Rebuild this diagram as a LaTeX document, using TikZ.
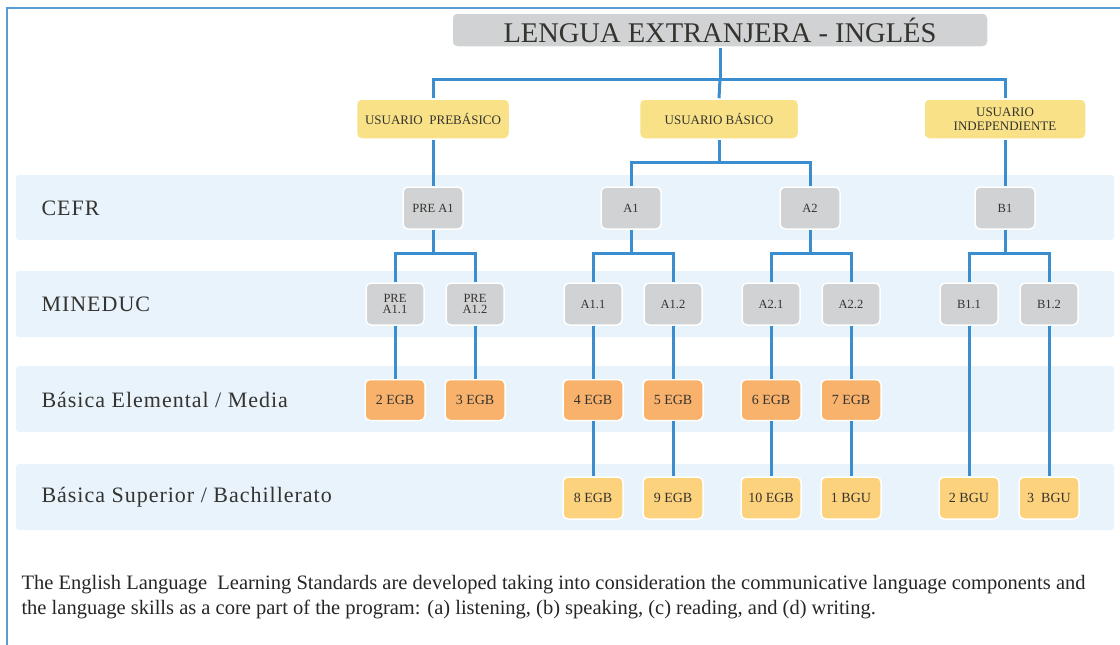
\documentclass[tikz,border=0pt]{standalone}
\usepackage{fontspec}
\usetikzlibrary{calc}
\setmainfont{Liberation Serif}
\newfontfamily\labelfont[LetterSpace=4.5]{Liberation Serif}

\definecolor{lineblue}{HTML}{3A8DCF}
\definecolor{frameblue}{HTML}{5B9BD5}
\definecolor{bandblue}{HTML}{E8F3FB}
\definecolor{boxgrey}{HTML}{D1D2D4}
\definecolor{usryellow}{HTML}{F8E186}
\definecolor{egborange}{HTML}{F8B26C}
\definecolor{bguyellow}{HTML}{FDD27D}
\definecolor{textgrey}{HTML}{353330}

\begin{document}
\begin{tikzpicture}[x=1pt,y=-1pt,
  conn/.style={draw=lineblue,line width=3pt},
  band/.style={fill=bandblue,rounded corners=3pt},
  box/.style={rounded corners=5pt,draw=white,line width=1.5pt,text=textgrey,
    align=center,inner sep=0pt},
  greybox/.style={box,fill=boxgrey,minimum width=60pt,minimum height=42pt,
    font=\fontsize{12.5}{11}\selectfont},
  usrbox/.style={box,fill=usryellow,minimum height=40pt,
    font=\fontsize{13}{14}\selectfont},
  egbbox/.style={box,fill=egborange,minimum width=60pt,minimum height=41pt,
    font=\fontsize{14}{14}\selectfont},
  bgubox/.style={box,fill=bguyellow,minimum width=60pt,minimum height=42pt,
    font=\fontsize{14}{14}\selectfont},
  rowlabel/.style={anchor=west,text=textgrey,font=\labelfont\fontsize{22}{24}\selectfont}]

  \useasboundingbox (0,0) rectangle (1120,645);
  \draw[frameblue,line width=2pt] (7,645) -- (7,8) -- (1120,8);

  % bands
  \foreach \ya/\yb in {175/240,271/337,366/432,464/530}
  \fill[band] (16,\ya) rectangle (1114,\yb);

  \node[rowlabel] (cefr) at (38,208) {CEFR};
  \node[rowlabel] (mineduc) at (38,304) {MINEDUC};
  \node[rowlabel] (media) at (38,400) {Básica Elemental / Media};
  \node[rowlabel] (bach) at (38,497) {Básica Superior / Bachillerato};

  % title and users
  \node[box,fill=boxgrey,minimum width=536pt,minimum height=34pt,
    font=\fontsize{28.5}{30}\selectfont] (title) at (720,30)
    {LENGUA EXTRANJERA\ - INGLÉS};
  \node[usrbox,minimum width=153pt] (prebas) at (433,119) {USUARIO\ \ PREBÁSICO};
  \node[usrbox,minimum width=159pt] (basico) at (719,119) {USUARIO BÁSICO};
  \node[usrbox,minimum width=162pt] (indep) at (1005,119) {USUARIO\\INDEPENDIENTE};

  % CEFR
  \node[greybox] (preaone) at (433,208) {PRE A1};
  \node[greybox] (aone) at (631,208) {A1};
  \node[greybox] (atwo) at (810,208) {A2};
  \node[greybox] (bone) at (1005,208) {B1};

  % MINEDUC
  \foreach \x/\n/\t in {395/pa11/PRE\\A1.1,475/pa12/PRE\\A1.2,593/a11/A1.1,
    673/a12/A1.2,771/a21/A2.1,851/a22/A2.2,969/b11/B1.1,1049/b12/B1.2}
  \node[greybox,minimum width=58pt] (\n) at (\x,304) {\t};

  % EGB
  \foreach \x/\n/\t in {395/egb2/2 EGB,475/egb3/3 EGB,593/egb4/4 EGB,
    673/egb5/5 EGB,771/egb6/6 EGB,851/egb7/7 EGB}
  \node[egbbox] (\n) at (\x,400) {\t};

  % BGU
  \foreach \x/\n/\t in {593/egb8/8 EGB,673/egb9/9 EGB,771/egb10/10 EGB,
    851/bgu1/1 BGU,969/bgu2/2 BGU,1049/bgu3/3\ \ BGU}
  \node[bgubox] (\n) at (\x,498) {\t};

  % connectors
  \coordinate (t0) at (720,79);
  \draw[conn] (title.south) -- (t0);
  \draw[conn] (prebas.north) |- (t0) -| (indep.north);
  \draw[conn] (t0) -- (basico.north);

  \draw[conn] (prebas.south) -- (preaone.north);
  \draw[conn] (indep.south) -- (bone.north);
  \coordinate (b0) at (719,162);
  \draw[conn] (basico.south) -- (b0);
  \draw[conn] (aone.north) |- (b0) -| (atwo.north);

  \foreach \p/\l/\r in {preaone/pa11/pa12,aone/a11/a12,atwo/a21/a22,bone/b11/b12}{
    \coordinate (\p-s) at ($(\p.south)+(0,24)$);
    \draw[conn] (\p.south) -- (\p-s);
    \draw[conn] (\l.north) |- (\p-s) -| (\r.north);
  }

  \foreach \a/\b in {pa11/egb2,pa12/egb3,a11/egb4,a12/egb5,a21/egb6,a22/egb7,
    egb4/egb8,egb5/egb9,egb6/egb10,egb7/bgu1,b11/bgu2,b12/bgu3}
  \draw[conn] (\a.south) -- (\b.north);

  % footer
  \node[anchor=base west,align=left,text=black!85,
    font=\fontsize{20.5}{25}\selectfont] (foot) at (18,614)
    {The English Language\ \ Learning Standards are developed taking into consideration the communicative language components and\\
     the language skills\ as a core part of the\ program: (a)\ listening, (b) speaking, (c) reading, and\ (d)\ writing.};
\end{tikzpicture}
\end{document}
